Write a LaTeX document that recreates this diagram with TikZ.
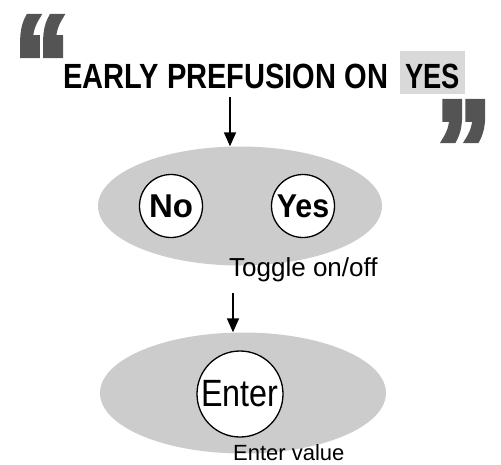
\documentclass[tikz,border=0pt]{standalone}
\usepackage{graphicx}
\usepackage{fontspec}
\setmainfont{Liberation Sans}
\newfontfamily\quotefont[FakeBold=4]{Liberation Sans Bold}
\usetikzlibrary{arrows.meta,shapes.geometric,positioning}
\newcommand{\sqz}[2][0.83]{\scalebox{#1}[1]{#2}}
\newcommand{\bigquote}[1]{\raisebox{-57pt}[42pt][0pt]{\scalebox{1}[1.25]{#1}}}

\begin{document}
\begin{tikzpicture}[x=1pt, y=-1pt,
    oval/.style={ellipse, fill=black!20, inner sep=0pt},
    btn/.style={circle, draw, line width=1.3pt, fill=white, inner sep=0pt, minimum size=63pt},
    arr/.style={-{Triangle[length=14pt,width=12pt]}, line width=1.8pt},
    quot/.style={text=black!67, font=\quotefont\fontsize{110}{110}\selectfont, inner sep=0pt, anchor=north west},
    lbl/.style={inner sep=0pt, anchor=base west}
]
\useasboundingbox (0,0) rectangle (501,464);
% quotes
\node[quot] (qopen) at (14,12) {\bigquote{“}};
\node[quot] (qclose) at (436,97) {\bigquote{”}};
% title line
\node[lbl, font=\bfseries\fontsize{35}{35}\selectfont] (title) at (63,88) {\sqz{EARLY PREFUSION ON}};
\node[lbl, fill=black!15, inner xsep=5pt, text height=37pt, text depth=6pt, font=\bfseries\fontsize{35}{35}\selectfont] (yes) at (400,88) {\sqz[0.78]{YES}};
% toggle step
\node[oval, minimum width=284pt, minimum height=119pt] (oval1) at (240,206) {};
\node[btn, font=\bfseries\fontsize{33}{33}\selectfont] (no) at (171,206) {No};
\node[btn, font=\bfseries\fontsize{33}{33}\selectfont] (yesbtn) at (303,206) {\sqz[0.92]{Yes}};
\node[lbl, font=\fontsize{26}{26}\selectfont] (toggle) at (229,276) {Toggle on/off};
% enter step
\node[oval, minimum width=286pt, minimum height=121pt] (oval2) at (243,393) {};
\node[btn, minimum size=86pt, font=\fontsize{38}{38}\selectfont] (enter) at (240,394) {\sqz[0.85]{Enter}};
\node[lbl, font=\fontsize{22}{22}\selectfont] (entval) at (233,460) {Enter value};

\coordinate (a1) at (230,97);
\coordinate (a2) at (233,293);
\draw[arr] (a1) -- (a1 |- oval1.north);
\draw[arr] (a2) -- (a2 |- oval2.north);
\end{tikzpicture}
\end{document}
